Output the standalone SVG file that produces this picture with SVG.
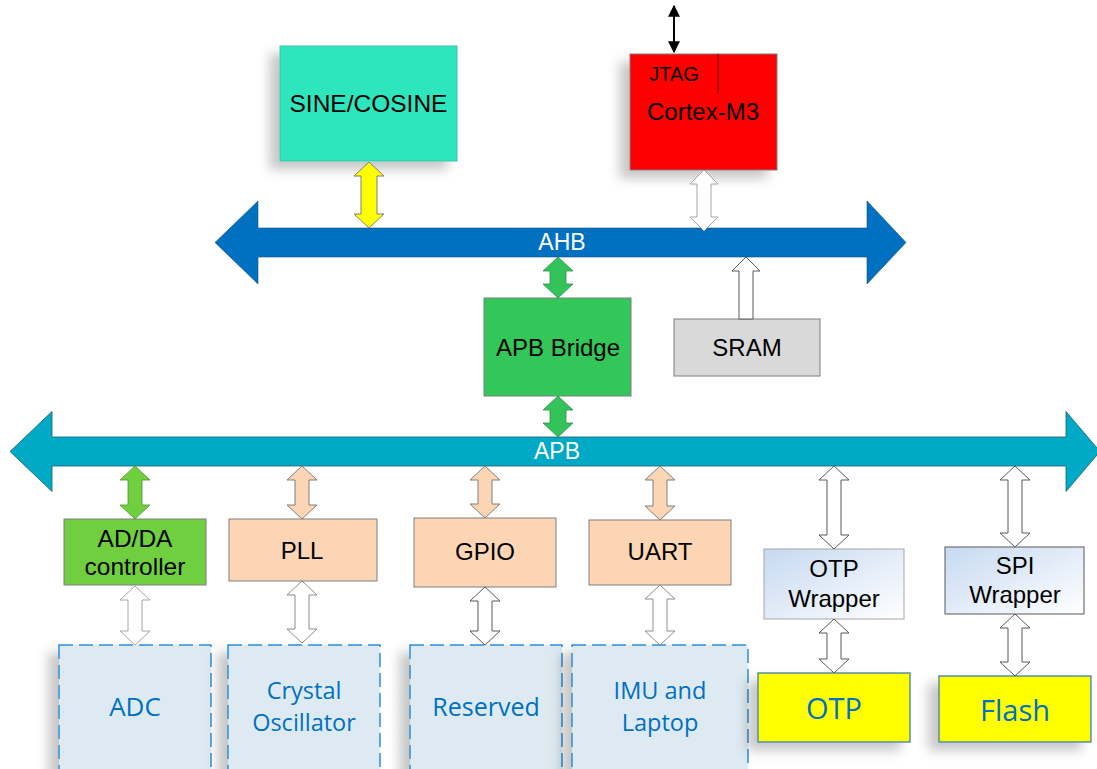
<svg xmlns="http://www.w3.org/2000/svg" width="1097" height="769" viewBox="0 0 1097 769">
<defs>
<style>
.lbl{font-family:"Liberation Sans",Arial,sans-serif;fill:#000;text-anchor:middle;dominant-baseline:central}
.blu{font-family:"Open Sans","Noto Sans",sans-serif;fill:#0070C0;text-anchor:middle;dominant-baseline:central}
.box{stroke:#7F7F7F;stroke-width:1}
.dash{fill:#DEEAF1;stroke:#2E8FD8;stroke-width:1.5;stroke-dasharray:14,6}
.ylw{fill:#FFFF00;stroke:#2E75B6;stroke-width:1.2}
.wa{fill:#FFFFFF;stroke:#595959;stroke-width:1}
.pa{fill:#FCD5B4;stroke:#7F7F7F;stroke-width:1}
.ga{fill:#33C35A;stroke:#2F8F46;stroke-width:0.8}
</style>
<filter id="sh" x="-30%" y="-30%" width="160%" height="160%">
<feDropShadow dx="-10" dy="8" stdDeviation="6" flood-color="#000" flood-opacity="0.22"/>
</filter>
<linearGradient id="wrap" x1="0" y1="0" x2="1" y2="1">
<stop offset="0" stop-color="#C6D9F1"/>
<stop offset="1" stop-color="#FFFFFF"/>
</linearGradient>
<marker id="ah" viewBox="0 0 10 10" refX="9" refY="5" markerWidth="6" markerHeight="6" orient="auto-start-reverse">
<path d="M0,0 L10,5 L0,10 Z" fill="#000"/>
</marker>
</defs>

<g id="buses">
<path id="ahb" d="M215,242.5 L258,201 L258,228 L867,228 L867,201 L906,242.5 L867,284 L867,257 L258,257 L258,284 Z" fill="#0070C0" stroke="#1F4E79" stroke-width="0.6"/>
<text class="lbl" x="562" y="242" font-size="23" style="fill:#fff">AHB</text>
<path id="apb" d="M10,451.5 L52,411.5 L52,437 L1066,437 L1066,411.5 L1100,451.5 L1066,491.5 L1066,466 L52,466 L52,491.5 Z" fill="#00A9C5" stroke="#1B5F6B" stroke-width="0.8"/>
<text class="lbl" x="557" y="451" font-size="23" style="fill:#fff">APB</text>
</g>

<g id="n-sine"><rect x="280" y="46" width="177" height="115" fill="#2EE6BE" stroke="#3CC3A6" stroke-width="1" filter="url(#sh)"/><text class="lbl" x="368.5" y="103" font-size="24.5">SINE/COSINE</text></g>
<g id="n-cortex"><rect x="630" y="54" width="147" height="116" fill="#FF0000" stroke="#7F7F7F" stroke-width="1" filter="url(#sh)"/><line x1="718" y1="54" x2="718" y2="94" stroke="#4A0000" stroke-width="1"/><text class="lbl" x="674" y="74" font-size="20">JTAG</text><text class="lbl" x="703" y="111" font-size="24">Cortex-M3</text></g>
<g id="n-apbbridge"><rect class="box" x="484" y="298" width="147" height="98" fill="#33C659"/><text class="lbl" x="558" y="347" font-size="24">APB Bridge</text></g>
<g id="n-sram"><rect class="box" x="674" y="319" width="146" height="57" fill="#D9D9D9"/><text class="lbl" x="747" y="347" font-size="24">SRAM</text></g>
<g id="n-adda"><rect class="box" x="64" y="519" width="142" height="66" fill="#6FCF3F"/><text class="lbl" x="135" y="538" font-size="24.5">AD/DA</text><text class="lbl" x="135" y="566" font-size="24.5">controller</text></g>
<g id="n-pll"><rect class="box" x="229" y="519" width="148" height="62" fill="#FCD5B4"/><text class="lbl" x="302" y="550" font-size="24">PLL</text></g>
<g id="n-gpio"><rect class="box" x="414" y="518" width="142" height="69" fill="#FCD5B4"/><text class="lbl" x="485" y="551" font-size="24">GPIO</text></g>
<g id="n-uart"><rect class="box" x="589" y="520" width="142" height="65" fill="#FCD5B4"/><text class="lbl" x="660" y="551" font-size="24">UART</text></g>
<g id="n-otpw"><rect x="764" y="549" width="140" height="70" fill="url(#wrap)" stroke="#A6A6A6" stroke-width="1"/><text class="lbl" x="834" y="568" font-size="24">OTP</text><text class="lbl" x="834" y="598" font-size="24">Wrapper</text></g>
<g id="n-spiw"><rect x="945" y="547" width="139" height="67" fill="url(#wrap)" stroke="#595959" stroke-width="1"/><text class="lbl" x="1015" y="565" font-size="24">SPI</text><text class="lbl" x="1015" y="594" font-size="24">Wrapper</text></g>
<g id="n-adc"><rect class="dash" x="59" y="645" width="152" height="135" filter="url(#sh)"/><text class="blu" x="135" y="706" font-size="26">ADC</text></g>
<g id="n-crystal"><rect class="dash" x="228" y="645" width="152" height="135" filter="url(#sh)"/><text class="blu" x="304" y="690" font-size="23.5">Crystal</text><text class="blu" x="304" y="722" font-size="23.5">Oscillator</text></g>
<g id="n-reserved"><rect class="dash" x="410" y="645" width="152" height="135" filter="url(#sh)"/><text class="blu" x="486" y="706" font-size="25">Reserved</text></g>
<g id="n-imu"><rect class="dash" x="572" y="645" width="176" height="135" filter="url(#sh)"/><text class="blu" x="660" y="690" font-size="23.5">IMU and</text><text class="blu" x="660" y="722" font-size="23.5">Laptop</text></g>
<g id="n-otp"><rect class="ylw" x="758" y="673" width="152" height="69" filter="url(#sh)"/><text class="blu" x="834" y="707" font-size="29">OTP</text></g>
<g id="n-flash"><rect class="ylw" x="939" y="676" width="152" height="66" filter="url(#sh)"/><text class="blu" x="1015" y="709" font-size="29">Flash</text></g>

<g id="connectors">
<line x1="674" y1="6" x2="674" y2="52" stroke="#000" stroke-width="2" marker-start="url(#ah)" marker-end="url(#ah)"/>
<path d="M369,162 L384,176 L377,176 L377,214 L384,214 L369,228 L354,214 L361,214 L361,176 L354,176 Z" fill="#FFFF00" stroke="#7F7F7F" stroke-width="1"/>
<path class="wa" d="M704,170 L718,184 L711,184 L711,217 L718,217 L704,231 L690,217 L697,217 L697,184 L690,184 Z" style="stroke:#A6A6A6"/>
<path class="ga" d="M558,257 L573,271 L566,271 L566,284 L573,284 L558,298 L543,284 L550,284 L550,271 L543,271 Z"/>
<path class="wa" d="M746,257 L760,271 L753,271 L753,319 L739,319 L739,271 L732,271 Z"/>
<path class="ga" d="M558,396 L573,410 L566,410 L566,423 L573,423 L558,437 L543,423 L550,423 L550,410 L543,410 Z"/>
<path d="M135,466 L150,480 L142,480 L142,505 L150,505 L135,519 L120,505 L128,505 L128,480 L120,480 Z" fill="#6FCF3F" stroke="#4D8F2C" stroke-width="0.8"/>
<path class="pa" d="M302,466 L317,480 L309,480 L309,505 L317,505 L302,519 L287,505 L295,505 L295,480 L287,480 Z"/>
<path class="pa" d="M485,466 L500,480 L492,480 L492,504 L500,504 L485,518 L470,504 L478,504 L478,480 L470,480 Z"/>
<path class="pa" d="M660,466 L675,480 L667,480 L667,506 L675,506 L660,520 L645,506 L653,506 L653,480 L645,480 Z"/>
<path class="wa" d="M834,466 L849,480 L841,480 L841,535 L849,535 L834,549 L819,535 L827,535 L827,480 L819,480 Z"/>
<path class="wa" d="M1015,466 L1030,480 L1022,480 L1022,533 L1030,533 L1015,547 L1000,533 L1008,533 L1008,480 L1000,480 Z"/>
<path class="wa" d="M135,586 L150,600 L142,600 L142,631 L150,631 L135,645 L120,631 L128,631 L128,600 L120,600 Z" style="stroke:#A6A6A6"/>
<path class="wa" d="M302,581 L317,595 L309,595 L309,629 L317,629 L302,643 L287,629 L295,629 L295,595 L287,595 Z" style="stroke:#8C8C8C"/>
<path class="wa" d="M485,587 L500,601 L492,601 L492,631 L500,631 L485,645 L470,631 L478,631 L478,601 L470,601 Z"/>
<path class="wa" d="M660,585 L675,599 L667,599 L667,631 L675,631 L660,645 L645,631 L653,631 L653,599 L645,599 Z" style="stroke:#8C8C8C"/>
<path class="wa" d="M834,619 L849,633 L841,633 L841,659 L849,659 L834,673 L819,659 L827,659 L827,633 L819,633 Z"/>
<path class="wa" d="M1015,614 L1030,628 L1022,628 L1022,662 L1030,662 L1015,676 L1000,662 L1008,662 L1008,628 L1000,628 Z"/>
</g>
</svg>
